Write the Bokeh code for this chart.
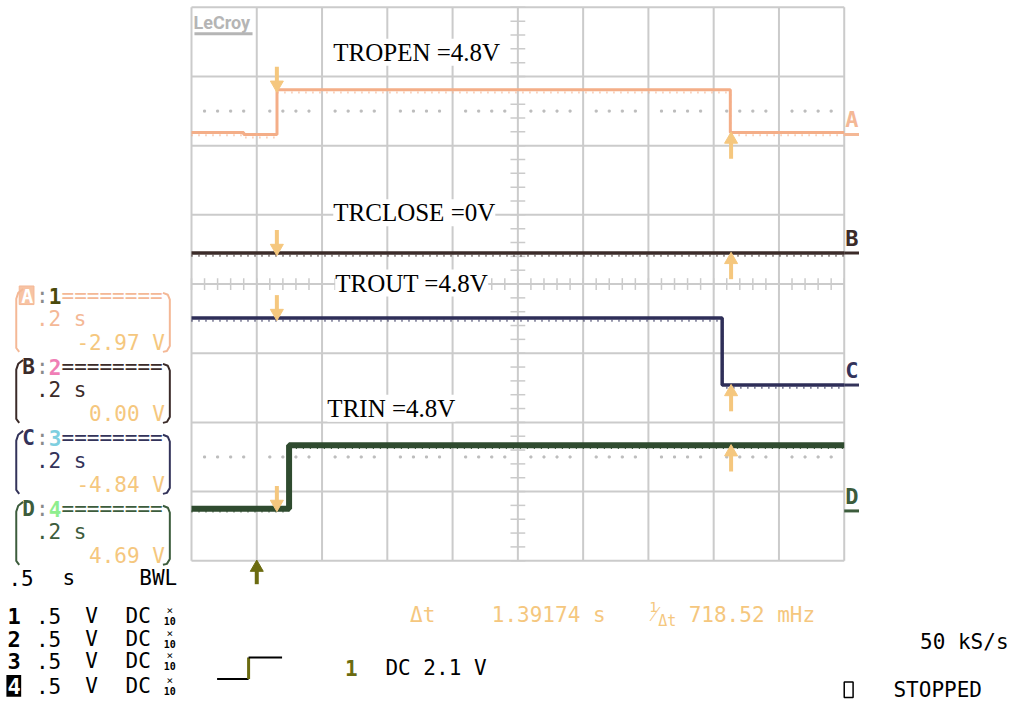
import numpy as np
from bokeh.plotting import figure
from bokeh.models import Label, Range1d
from bokeh.embed import file_html
from bokeh.resources import INLINE

# ---------------- data (time in s, trace level in screen divisions) ----------------
time_per_div = 0.2
A_time = [0.0, 0.16, 0.16, 0.262, 0.262, 1.651, 1.651, 2.0]
A_level = [2.19, 2.19, 2.16, 2.16, 2.81, 2.81, 2.19, 2.19]
B_time = [0.0, 2.0]
B_level = [0.45, 0.45]
C_time = [0.0, 1.626, 1.626, 2.0]
C_level = [-0.49, -0.49, -1.46, -1.46]
D_time = [0.0, 0.299, 0.299, 2.0]
D_level = [-3.25, -3.25, -2.33, -2.33]

trace_names = ["A", "B", "C", "D"]
channel_numbers = ["1", "2", "3", "4"]
trace_timebase = [".2 s", ".2 s", ".2 s", ".2 s"]
trace_offsets = ["-2.97 V", "0.00 V", "-4.84 V", "4.69 V"]
marker_levels = [2.16, 0.45, -1.46, -3.28]
threshold_texts = ["TROPEN =4.8V", "TRCLOSE =0V", "TROUT =4.8V", "TRIN =4.8V"]
channel_vdiv = [".5", ".5", ".5", ".5"]
cursor1_time = 0.2616
delta_t = 1.39174
inv_delta_label = "718.52 mHz"
cursor1_levels = [2.81, 0.45, -0.49, -3.25]
cursor2_levels = [2.19, 0.45, -1.46, -2.33]
trigger_time = 0.2

# ---------------- styles ----------------
trace_colors = ["#F4AE88", "#3B2B29", "#2E2E58", "#2F4B2F"]
trace_widths = [3, 3.5, 3.5, 6]
panel_colors = ["#F4B896", "#3B2B29", "#33335A", "#3C5C3C"]
number_colors = ["#4A4A0C", "#F07EB6", "#7ECFE0", "#8EEE8E"]
YEL = "#F5C77E"
GRID = "#CBCBCB"
MONO = "DejaVu Sans Mono"
SERIF = "Liberation Serif"

# reference-pixel -> data helpers (for layout only)
def X(px):
    return (px - 194) / 66.3 * time_per_div

def Y(py):
    return 4 - (py - 7) / 70.75

W, H = 1017, 702
p = figure(width=W, height=H, output_backend="svg", toolbar_location=None,
           x_range=Range1d(X(0), X(1033)), y_range=Range1d(Y(718), Y(0)),
           x_axis_location=None, y_axis_location=None, min_border=0)
p.grid.visible = False
p.outline_line_color = None
p.background_fill_color = "white"
p.border_fill_color = "white"

# ---------------- graticule ----------------
xs_major = [i * time_per_div for i in range(11)]
ys_major = list(range(-4, 5))
p.segment(x0=xs_major, y0=[-4] * 11, x1=xs_major, y1=[4] * 11, line_color=GRID, line_width=2)
p.segment(x0=[0] * 9, y0=ys_major, x1=[2.0] * 9, y1=ys_major, line_color=GRID, line_width=2)
# centre minor ticks
tx = [i * 0.04 for i in range(51)]
p.segment(x0=tx, y0=[-0.085] * 51, x1=tx, y1=[0.085] * 51, line_color=GRID, line_width=1.5)
ty = [-4 + i * 0.2 for i in range(41)]
dx = 7.5 / 66.3 * time_per_div
p.segment(x0=[1.0 - dx] * 41, y0=ty, x1=[1.0 + dx] * 41, y1=ty, line_color=GRID, line_width=1.5)
# dotted reference rows
dots = [i * 0.04 for i in range(51) if i % 5 != 0]
for lvl in (2.5, -2.5):
    p.scatter(dots, [lvl] * len(dots), marker="square", size=2, color="#BDBDBD")

# ---------------- traces ----------------
traces = [(A_time, A_level), (B_time, B_level), (C_time, C_level), (D_time, D_level)]
for (t, v), c, w in zip(traces, trace_colors, trace_widths):
    p.line(t, v, line_color=c, line_width=w)
    p.line(t, [lv - 0.04 for lv in v], line_color=c, line_width=2, line_dash="1 6")

# cursor arrows
cursor2_time = cursor1_time + delta_t
ah = 0.33
for lv in cursor1_levels:
    p.segment(x0=[cursor1_time], y0=[lv + 0.1], x1=[cursor1_time], y1=[lv + ah], line_color=YEL, line_width=4)
    p.scatter([cursor1_time], [lv + 0.07], marker="inverted_triangle", size=13, color=YEL)
for lv in cursor2_levels:
    p.segment(x0=[cursor2_time], y0=[lv - 0.12], x1=[cursor2_time], y1=[lv - 0.05 - ah], line_color=YEL, line_width=4)
    p.scatter([cursor2_time], [lv - 0.1], marker="triangle", size=13, color=YEL)

# trigger arrow
p.segment(x0=[trigger_time], y0=[Y(582)], x1=[trigger_time], y1=[Y(597)], line_color="#6B6B10", line_width=4)
p.scatter([trigger_time], [Y(580)], marker="triangle", size=13, color="#6B6B10")

# trace markers on the right
for name, lvl, c in zip(trace_names, marker_levels, panel_colors):
    p.segment(x0=[X(857)], y0=[lvl], x1=[X(872)], y1=[lvl], line_color=c, line_width=3)
    p.add_layout(Label(x=X(858), y=lvl + 15 / 70.75, text=name, text_color=c, text_font=MONO,
                       text_font_size="22px", text_font_style="bold", text_baseline="middle"))

def L(text, px, py, color="black", size="21px", font=MONO, align="left", style="normal", bg=None):
    lab = Label(x=X(px), y=Y(py), text=text, text_color=color, text_font_size=size,
                text_font=font, text_align=align, text_baseline="middle", text_font_style=style)
    if bg:
        lab.background_fill_color = bg
    p.add_layout(lab)

def poly(pts, color, width=2):
    p.line([X(a) for a, b in pts], [Y(b) for a, b in pts], line_color=color, line_width=width)

# threshold annotations
for txt, (px, py) in zip(threshold_texts, [(338, 53), (338, 217), (340, 289), (332, 417)]):
    L(txt, px, py, font=SERIF, size="25px", bg="white")

# LeCroy logo
L("LeCroy", 196, 22, color="#B5B5B5", size="18px", font="Roboto", style="bold")
p.segment(x0=[X(197)], y0=[Y(34)], x1=[X(256)], y1=[Y(34)], line_color="#B5B5B5", line_width=3)

# ---------------- left panel ----------------
def col(k):
    return 24 + 13 * k

def row(r):
    return 302 + 24.2 * r

for i in range(4):
    r0 = 3 * i
    pc = panel_colors[i]
    y0, y1, y2 = row(r0), row(r0 + 1), row(r0 + 2)
    if i == 0:
        p.quad(left=[X(19)], right=[X(34)], top=[Y(y0 - 10)], bottom=[Y(y0 + 9)],
               fill_color="#F7C3A3", line_color=pc, line_width=1)
        L(trace_names[i], col(0) - 3, y0, color="white", size="20px", style="bold")
    else:
        L(trace_names[i], col(0) - 2, y0, color=pc, size="21px", style="bold")
    L(":", col(1) - 1, y0, color="#8A8A8A")
    L(channel_numbers[i], col(2) - 1, y0, color=number_colors[i], style="bold")
    L("========", col(3) - 1, y0, color=pc)
    L(trace_timebase[i], col(1) - 1, y1, color=pc)
    L(trace_offsets[i], col(11), y2, color=YEL, align="right")
    # brackets
    poly([(23, y0 - 7), (18, y0 - 3), (16, y0 + 3), (16, y2 + 5), (19, y2 + 9)], pc)
    poly([(165, y0 - 3), (170, y0 - 1), (172, y0 + 4), (172, y2 + 3), (169, y2 + 8), (165, y2 + 9)], pc)

# timebase row
L(".5", 8, 591)
L("s", 63, 591)
L("BWL", 141, 591)
for i, yy in enumerate([630, 653, 676, 701]):
    if i == 3:
        p.quad(left=[X(6)], right=[X(21)], top=[Y(yy - 11)], bottom=[Y(yy + 11)], fill_color="black", line_color=None)
        L(channel_numbers[i], 7, yy, color="white", size="22px", style="bold")
    else:
        L(channel_numbers[i], 7, yy, size="22px", style="bold")
    L(channel_vdiv[i], 36, yy)
    L("V", 86, yy)
    L("DC", 127, yy)
    L("\u00d7", 172, yy - 6, size="11px", align="center")
    L("10", 172, yy + 5, size="10px", align="center", style="bold")

# trigger symbol
poly([(220, 694), (252, 694)], "black", 2)
poly([(252, 694), (252, 672)], "#6B6B10", 3)
poly([(252, 672), (286, 672)], "black", 2)
L("1", 350, 683, color="#6B6B10", style="bold")
L("DC 2.1 V", 391, 683)

# cursor readout
L("\u0394t", 416, 628, color=YEL)
L(f"{delta_t:.5f} s", 499, 628, color=YEL)
L("1", 659, 620, color=YEL, size="14px")
L("\u2044", 663, 627, color=YEL, size="21px")
L("\u0394t", 668, 635, color=YEL, size="15px")
L(inv_delta_label, 699, 628, color=YEL)

L("50 kS/s", 934, 656)
p.quad(left=[X(857)], right=[X(866)], top=[Y(697)], bottom=[Y(713)], fill_color=None, line_color="black", line_width=1.5)
L("STOPPED", 907, 705)

open("out.html", "w").write(file_html(p, INLINE))
